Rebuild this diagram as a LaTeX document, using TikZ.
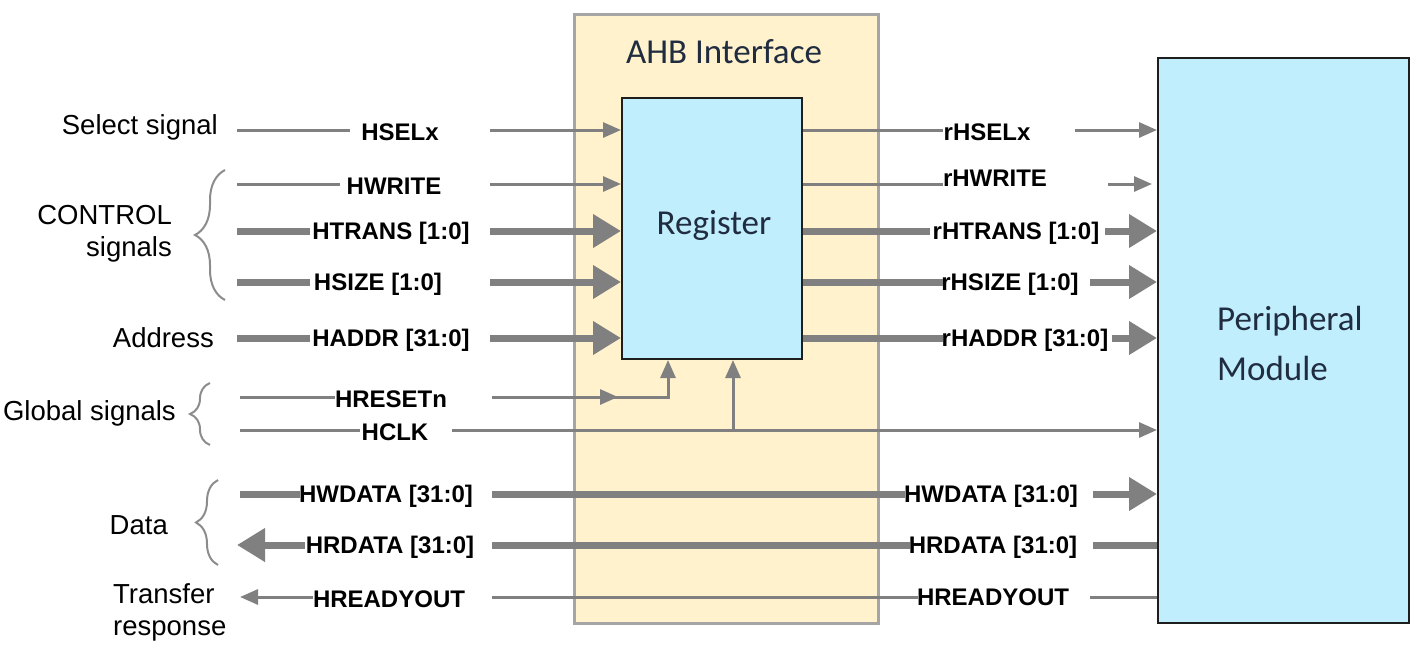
\documentclass[tikz,border=0pt]{standalone}
\usepackage{fontspec}
\setmainfont{Liberation Sans}
\newfontfamily\calfont{Carlito}
\usetikzlibrary{arrows.meta,decorations.pathreplacing,calc}
\definecolor{wire}{RGB}{128,128,128}
\definecolor{ahbfill}{RGB}{255,242,204}
\definecolor{ahbline}{RGB}{165,165,165}
\definecolor{regfill}{RGB}{193,238,252}
\definecolor{boxline}{RGB}{30,30,30}
\definecolor{titletext}{RGB}{32,44,64}
\definecolor{bracecol}{RGB}{140,140,140}
\begin{document}
\begin{tikzpicture}[x=1pt,y=-1pt,
  thinw/.style={draw=wire,line width=3pt},
  thickw/.style={draw=wire,line width=7pt},
  thinarrow/.style={thinw,-{Triangle[length=18pt,width=15pt]}},
  thickarrow/.style={thickw,-{Triangle[length=28pt,width=32pt]}},
  sig/.style={font=\fontsize{24}{26}\selectfont\bfseries, inner sep=0pt},
  grp/.style={font=\fontsize{27.5}{32}\selectfont, inner sep=0pt},
  blocktext/.style={font=\calfont\fontsize{35}{50}\selectfont, text=titletext, inner sep=0pt},
  bracestyle/.style={draw=bracecol,line width=2pt,decorate},
  ahbbox/.style={draw=ahbline,fill=ahbfill,line width=3pt,anchor=north west},
  cyanbox/.style={draw=boxline,fill=regfill,line width=2pt,anchor=north west}
]
\useasboundingbox (0,0) rectangle (1424,656);

% blocks
\node[ahbbox,minimum width=304pt,minimum height=609pt] (ahb) at (573,13) {};
\node[cyanbox,minimum width=180pt,minimum height=261pt] (reg) at (621,97) {};
\node[cyanbox,minimum width=251pt,minimum height=565pt] (per) at (1157,57) {};

\node[blocktext] (ahbt) at (724,52) {AHB Interface};
\node[blocktext] (regt) at (714,225) {Register};
\node[blocktext,align=left,anchor=west] (pert) at (1217,343) {Peripheral\\Module};

% group labels
\node[grp,anchor=east] (gsel) at (218,127) {Select signal};
\node[grp,anchor=east,align=right] (gctl) at (172,234) {CONTROL\\signals};
\node[grp,anchor=east] (gadr) at (214,338) {Address};
\node[grp,anchor=east] (gglb) at (176,413) {Global signals};
\node[grp,anchor=east] (gdat) at (168,525) {Data};
\node[grp,anchor=west,align=left] (gtr) at (113,612) {Transfer\\response};

% braces
\coordinate (bc1) at (225,300); \coordinate (bc2) at (225,170);
\draw[bracestyle,decoration={brace,amplitude=30pt}] (bc1) -- (bc2);
\coordinate (bg1) at (210,445); \coordinate (bg2) at (210,383);
\draw[bracestyle,decoration={brace,amplitude=20pt}] (bg1) -- (bg2);
\coordinate (bd1) at (218,565); \coordinate (bd2) at (218,480);
\draw[bracestyle,decoration={brace,amplitude=22pt}] (bd1) -- (bd2);

% ---- inputs to register ----
% HSELx
\node[sig] (tsel) at (400,132) {HSELx};
\coordinate (a1) at (237,130); \coordinate (b1) at (350,130); \coordinate (c1) at (490,130);
\draw[thinw] (a1) -- (b1);
\draw[thinarrow] (c1) -- (reg.west |- c1);
% HWRITE
\node[sig] (twr) at (394,186) {HWRITE};
\coordinate (a2) at (237,184); \coordinate (b2) at (340,184); \coordinate (c2) at (490,184);
\draw[thinw] (a2) -- (b2);
\draw[thinarrow] (c2) -- (reg.west |- c2);
% HTRANS
\node[sig] (ttr) at (391,233) {HTRANS [1:0]};
\coordinate (a3) at (237,231); \coordinate (b3) at (310,231); \coordinate (c3) at (490,231);
\draw[thickw] (a3) -- (b3);
\draw[thickarrow] (c3) -- (reg.west |- c3);
% HSIZE
\node[sig] (tsz) at (378,284) {HSIZE [1:0]};
\coordinate (a4) at (237,282); \coordinate (b4) at (310,282); \coordinate (c4) at (490,282);
\draw[thickw] (a4) -- (b4);
\draw[thickarrow] (c4) -- (reg.west |- c4);
% HADDR
\node[sig] (tad) at (391,340) {HADDR [31:0]};
\coordinate (a5) at (237,338); \coordinate (b5) at (310,338); \coordinate (c5) at (490,338);
\draw[thickw] (a5) -- (b5);
\draw[thickarrow] (c5) -- (reg.west |- c5);
% HRESETn
\node[sig] (trs) at (391,399) {HRESETn};
\coordinate (a6) at (240,397); \coordinate (b6) at (335,397); \coordinate (c6) at (492,397);
\coordinate (d6) at (618,397); \coordinate (e6) at (610,397); \coordinate (f6) at (668,397);
\draw[thinw] (a6) -- (b6);
\draw[thinarrow] (c6) -- (d6);
\draw[thinarrow] (e6) -- (f6) -- (f6 |- reg.south);
% HCLK
\node[sig] (tck) at (395,432) {HCLK};
\coordinate (a7) at (240,430); \coordinate (b7) at (360,430); \coordinate (c7) at (452,430);
\coordinate (k7) at (733,430);
\draw[thinw] (a7) -- (b7);
\draw[thinarrow] (c7) -- (per.west |- c7);
\draw[thinarrow] (k7) -- (k7 |- reg.south);

% ---- data ----
\node[sig] (twd1) at (386,496) {HWDATA [31:0]};
\node[sig] (twd2) at (991,496) {HWDATA [31:0]};
\coordinate (a8) at (240,494); \coordinate (b8) at (300,494); \coordinate (c8) at (492,494);
\coordinate (d8) at (905,494); \coordinate (e8) at (1093,494);
\draw[thickw] (a8) -- (b8);
\draw[thickw] (c8) -- (d8);
\draw[thickarrow] (e8) -- (per.west |- e8);

\node[sig] (trd1) at (390,547) {HRDATA [31:0]};
\node[sig] (trd2) at (993,547) {HRDATA [31:0]};
\coordinate (a9) at (237,545); \coordinate (b9) at (305,545); \coordinate (c9) at (492,545);
\coordinate (d9) at (910,545); \coordinate (e9) at (1093,545);
\draw[thickarrow] (b9) -- (a9);
\draw[thickw] (c9) -- (d9);
\draw[thickw] (e9) -- (per.west |- e9);

\node[sig] (tro1) at (389,599) {HREADYOUT};
\node[sig] (tro2) at (993,597) {HREADYOUT};
\coordinate (a10) at (240,597); \coordinate (b10) at (313,597); \coordinate (c10) at (492,597);
\coordinate (d10) at (918,597); \coordinate (e10) at (1090,597);
\draw[thinarrow] (b10) -- (a10);
\draw[thinw] (c10) -- (d10);
\draw[thinw] (e10) -- (per.west |- e10);

% ---- outputs of register ----
\node[sig] (rsel) at (987,132) {rHSELx};
\coordinate (r1) at (943,130); \coordinate (s1) at (1075,130);
\draw[thinw] (reg.east |- r1) -- (r1);
\draw[thinarrow] (s1) -- (per.west |- s1);

\node[sig] (rwr) at (995,178) {rHWRITE};
\coordinate (r2) at (943,184); \coordinate (s2) at (1108,184); \coordinate (u2) at (1152,184);
\draw[thinw] (reg.east |- r2) -- (r2);
\draw[thinarrow] (s2) -- (u2);

\node[sig] (rtr) at (1016,233) {rHTRANS [1:0]};
\coordinate (r3) at (930,231); \coordinate (s3) at (1105,231);
\draw[thickw] (reg.east |- r3) -- (r3);
\draw[thickarrow] (s3) -- (per.west |- s3);

\node[sig] (rsz) at (1010,284) {rHSIZE [1:0]};
\coordinate (r4) at (943,282); \coordinate (s4) at (1090,282);
\draw[thickw] (reg.east |- r4) -- (r4);
\draw[thickarrow] (s4) -- (per.west |- s4);

\node[sig] (rad) at (1025,340) {rHADDR [31:0]};
\coordinate (r5) at (943,338); \coordinate (s5) at (1112,338);
\draw[thickw] (reg.east |- r5) -- (r5);
\draw[thickarrow] (s5) -- (per.west |- s5);
\end{tikzpicture}
\end{document}
